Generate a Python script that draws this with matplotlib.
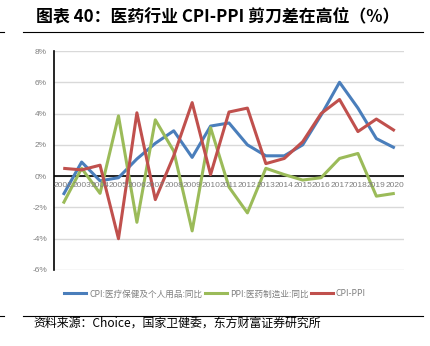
import numpy as np
import matplotlib.pyplot as plt
from matplotlib.lines import Line2D

plt.rcParams['font.family'] = ['Noto Sans CJK SC', 'DejaVu Sans']

years = [str(y) for y in range(2002, 2021)]
cpi = [-1.2, 0.9, -0.3, -0.1, 1.1, 2.1, 2.9, 1.2, 3.2, 3.4, 2.0, 1.3, 1.3, 2.0, 3.9, 6.0, 4.35, 2.4, 1.8]
ppi = [-1.75, 0.5, -1.1, 3.85, -2.95, 3.6, 1.6, -3.5, 3.1, -0.7, -2.35, 0.5, 0.1, -0.25, -0.1, 1.13, 1.45, -1.28, -1.1]
diff = [0.5, 0.4, 0.7, -4.0, 4.05, -1.5, 1.3, 4.7, 0.1, 4.1, 4.35, 0.8, 1.13, 2.2, 4.0, 4.9, 2.85, 3.65, 2.9]
yticks = [-6, -4, -2, 0, 2, 4, 6, 8]
labels = ['CPI:医疗保健及个人用品:同比', 'PPI:医药制造业:同比', 'CPI-PPI']
colors = ['#4a7ebb', '#9bbb59', '#c0504d']

fig = plt.figure(figsize=(4.3, 3.46), dpi=100)
ax = fig.add_axes([54 / 430, 1 - 270 / 346, 350 / 430, 219 / 346])

x = np.arange(len(years))
for vals, c, lab in zip([cpi, ppi, diff], colors, labels):
    ax.plot(x, vals, color=c, lw=2.2, label=lab, solid_capstyle='butt', zorder=3)

ax.set_xlim(-0.5, len(years) - 0.5)
ax.set_ylim(-6, 8)
ax.set_yticks(yticks)
ax.set_yticklabels([f'{v}%' for v in yticks], fontsize=6, color='#7f7f7f', family='Liberation Sans')
ax.yaxis.grid(True, color='#d9d9d9', lw=1)
ax.set_axisbelow(True)
ax.tick_params(axis='y', length=0, pad=5)
ax.set_xticks([])
for s in ['top', 'right', 'bottom']:
    ax.spines[s].set_visible(False)
ax.spines['left'].set_linewidth(1.2)
ax.axhline(0, color='black', lw=1.2, zorder=2)
for i, y in enumerate(years):
    ax.text(i, -0.35, y, ha='center', va='top', fontsize=6, color='#7f7f7f',
            family='Liberation Sans')

fig.legend(handles=[Line2D([], [], color=c, lw=2.2) for c in colors], labels=labels,
           loc='center', bbox_to_anchor=(0.5, 1 - 294 / 346), ncol=3, frameon=False,
           fontsize=6.2, handlelength=2.6, handletextpad=0.3, columnspacing=0.3,
           labelcolor='#7f7f7f')

fig.text(36 / 430, 1 - 16 / 346, '图表 40：医药行业 CPI-PPI 剪刀差在高位（%）',
         fontsize=12.2, fontweight='bold', va='center', ha='left')
fig.add_artist(Line2D([23 / 430, 423 / 430], [1 - 32 / 346] * 2, color='black', lw=0.8))
fig.add_artist(Line2D([0, 4 / 430], [1 - 32 / 346] * 2, color='black', lw=0.8))
fig.add_artist(Line2D([23 / 430, 423 / 430], [1 - 316 / 346] * 2, color='black', lw=0.8))
fig.add_artist(Line2D([0, 4 / 430], [1 - 316 / 346] * 2, color='black', lw=0.8))
fig.text(33 / 430, 1 - 324 / 346, '资料来源：Choice，国家卫健委，东方财富证券研究所',
         fontsize=8.6, va='center', ha='left')

fig.savefig('out.png', dpi=100)
